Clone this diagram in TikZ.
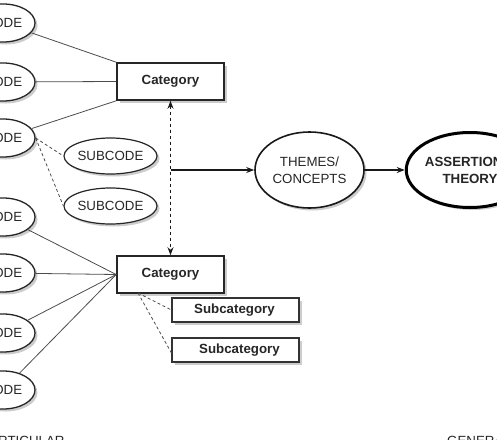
\documentclass[tikz,border=0pt]{standalone}
\usepackage{fontspec}
\setmainfont{Liberation Sans}
\usetikzlibrary{shapes.geometric,arrows.meta,shadows}
\tikzset{
  shad/.style={drop shadow={shadow xshift=2.5pt,shadow yshift=-2.5pt,fill=black,opacity=0.2}},
  txt/.style={font=\fontsize{13.3}{17}\selectfont, text=black!85},
  codeell/.style={ellipse, draw=black!85, line width=1.3pt, fill=white, minimum width=64pt, minimum height=38pt, inner sep=0pt, shad, txt},
  subell/.style={ellipse, draw=black!85, line width=1.2pt, fill=white, minimum width=83pt, minimum height=36pt, inner sep=0pt, shad, txt},
  catbox/.style={rectangle, draw=black!85, line width=1.6pt, fill=white, minimum width=107pt, minimum height=37pt, inner sep=0pt, shad, txt, font=\fontsize{13.3}{17}\selectfont\bfseries},
  subbox/.style={rectangle, draw=black!80, line width=1.1pt, fill=white, minimum width=127pt, minimum height=24pt, inner sep=0pt, shad, txt, font=\fontsize{13.3}{17}\selectfont\bfseries},
  link/.style={draw=black!70, line width=0.8pt},
  dlink/.style={draw=black!70, line width=0.8pt, dash pattern=on 3pt off 2.5pt},
  arr/.style={draw=black!90, line width=1.2pt, -{Stealth[length=8pt,width=6pt]}},
}
\begin{document}
\begin{tikzpicture}[x=1pt,y=-1pt]
\useasboundingbox (0,0) rectangle (497,439);
\node[codeell] (c1) at (3,23) {CODE};
\node[codeell] (c2) at (3,82) {CODE};
\node[codeell] (c3) at (3,138) {CODE};
\node[codeell] (c4) at (3,217) {CODE};
\node[codeell] (c5) at (3,273) {CODE};
\node[codeell] (c6) at (3,333) {CODE};
\node[codeell] (c7) at (3,390) {CODE};
\node[subell] (sc1) at (110.5,156) {SUBCODE};
\node[subell] (sc2) at (110.5,206) {SUBCODE};
\node[catbox] (cat1) at (170.5,81.5) {Category};
\node[catbox] (cat2) at (170.5,274.5) {Category};
\node[subbox] (s1) at (235.5,310) {\hspace*{-2pt}Subcategory};
\node[subbox] (s2) at (235.5,350) {\hspace*{8pt}Subcategory};
\node[ellipse, draw=black!90, line width=1.6pt, fill=white, minimum width=109pt, minimum height=76pt, inner sep=0pt, shad, txt, align=center] (th) at (309.5,170) {THEMES/\\CONCEPTS};
\node[ellipse, draw=black, line width=3pt, fill=white, minimum width=112pt, minimum height=75pt, inner sep=0pt, shad, txt, align=center, font=\fontsize{13.3}{17}\selectfont\bfseries] (as) at (470,170) {ASSERTIONS/\\THEORY};
\coordinate (j) at (170.5,170);
\coordinate (d2) at (138,293);
\draw[link] (c1) -- (cat1.north west);
\draw[link] (c2) -- (cat1.west);
\draw[link] (c3) -- (cat1.south west);
\draw[dlink] (c3.east) -- (sc1.west);
\draw[dlink] (c3.east) -- (sc2.west);
\draw[link] (c4) -- (cat2.west);
\draw[link] (c5) -- (cat2.west);
\draw[link] (c6) -- (cat2.west);
\draw[link] (c7) -- (cat2.west);
\draw[dlink] (d2) -- (s1.west);
\draw[dlink] (d2) -- ([yshift=-3pt]s2.west);
\draw[draw=black!90, line width=1.2pt, dash pattern=on 3.5pt off 2.5pt, {Stealth[length=8pt,width=6pt]}-{Stealth[length=8pt,width=6pt]}] (cat1.south) -- (cat2.north);
\draw[arr] (j) -- (th.west);
\draw[arr] (th.east) -- (as.west);
\node[txt, inner sep=0pt] (pa) at (23,441) {PARTICULAR};
\node[txt, inner sep=0pt] (ge) at (479,441) {GENERAL};
\end{tikzpicture}
\end{document}
